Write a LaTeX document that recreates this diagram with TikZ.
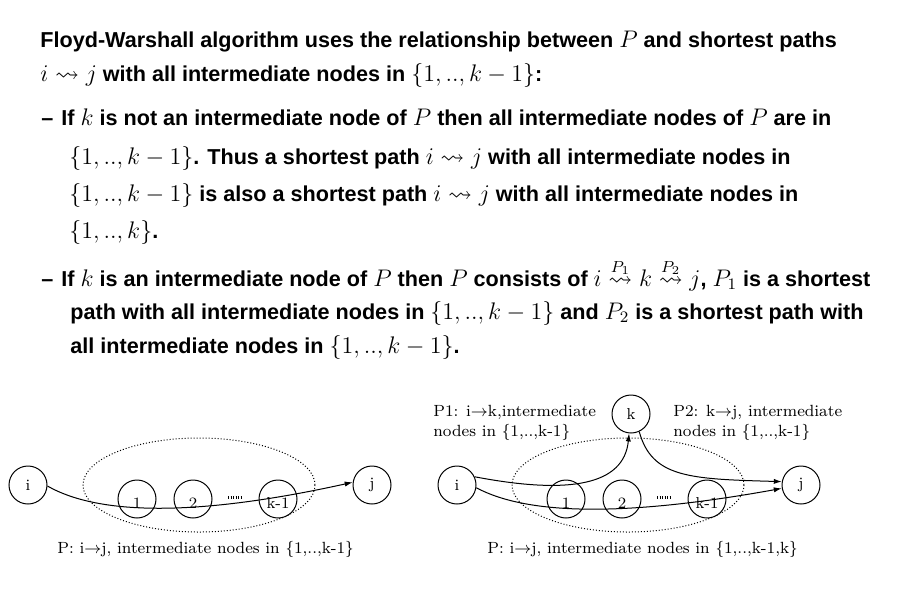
\documentclass[tikz,border=0pt]{standalone}
\usepackage{amsmath,amssymb}
\usepackage[no-math]{fontspec}
\newfontfamily\slidefont{Liberation Sans}
\DeclareMathSizes{10.8}{12}{8}{6}
\usepackage{tikz}
\usetikzlibrary{arrows.meta}
\tikzset{vertex/.style={draw, circle, line width=0.5pt, minimum size=19pt, inner sep=0pt, font=\fontsize{7.9}{9}\selectfont},
  member/.style={vertex, text height=9pt, text depth=0pt},
  txt/.style={anchor=base west, inner sep=0pt, font=\slidefont\bfseries\fontsize{10.8}{13}\selectfont},
  lbl/.style={anchor=base west, inner sep=0pt, font=\fontsize{8.1}{10}\selectfont},
  link/.style={-{Latex[length=4pt,width=2.6pt]}, line width=0.5pt},
  nodeset/.style={densely dotted, line width=0.5pt},
  ddots/.style={line width=1.5pt, dash pattern=on 0.5pt off 0.75pt}}

\begin{document}
\begin{tikzpicture}[x=0.5pt, y=-0.5pt]
\useasboundingbox (0,0) rectangle (905,606);
% text
\node[txt] (t1) at (40,47) {Floyd-Warshall algorithm uses the relationship between $P$ and shortest paths};
\node[txt] (t2) at (40,81) {$i \rightsquigarrow j$ with all intermediate nodes in $\{1,..,k-1\}$:};
\node[txt] (d1) at (41,125) {–};
\node[txt] (t3) at (61,125) {If $k$ is not an intermediate node of $P$ then all intermediate nodes of $P$ are in};
\node[txt] (t4) at (69,164) {$\{1,..,k-1\}$. Thus a shortest path $i \rightsquigarrow j$ with all intermediate nodes in};
\node[txt] (t5) at (69,201) {$\{1,..,k-1\}$ is also a shortest path $i \rightsquigarrow j$ with all intermediate nodes in};
\node[txt] (t6) at (69,238) {$\{1,..,k\}$.};
\node[txt] (d2) at (41,286) {–};
\node[txt] (t7) at (61,286) {If $k$ is an intermediate node of $P$ then $P$ consists of $i \stackrel{P_1}{\rightsquigarrow} k \stackrel{P_2}{\rightsquigarrow} j$, $P_1$ is a shortest};
\node[txt] (t8) at (70,319) {path with all intermediate nodes in $\{1,..,k-1\}$ and $P_2$ is a shortest path with};
\node[txt] (t9) at (70,353) {all intermediate nodes in $\{1,..,k-1\}$.};

% left graph
\draw[nodeset] (199,485) ellipse [x radius=116, y radius=47];
\node[vertex] (iL) at (28,485) {i};
\node[member] (n1L) at (137,499) {1};
\node[member] (n2L) at (193,499) {2};
\node[member] (nkL) at (278,499) {k-1};
\node[vertex] (jL) at (372,485) {j};
\draw[ddots] (228,497) -- (243,497);
\draw[link] (iL.-3) .. controls (100,516) and (200,516) .. (jL.172);
\node[lbl] (cL) at (57,553) {P: i$\to$j, intermediate nodes in \{1,..,k-1\}};

% right graph
\draw[nodeset] (628,485) ellipse [x radius=116, y radius=47];
\node[vertex] (iR) at (457,485) {i};
\node[member] (n1R) at (566,499) {1};
\node[member] (n2R) at (622,499) {2};
\node[member] (nkR) at (707,499) {k-1};
\node[vertex] (jR) at (801,485) {j};
\node[vertex] (kR) at (631,414) {k};
\draw[ddots] (657,497) -- (672,497);
\draw[link] (iR.25) .. controls (570,495) and (624,485) .. (kR);
\draw[link] (kR.-65) .. controls (652,478) and (690,479) .. (jR.170);
\draw[link] (iR.-8) .. controls (529,516) and (629,516) .. (jR.-170);
\node[lbl] (p1) at (433,416) {P1: i$\to$k,intermediate};
\node[lbl] (p1b) at (433,436) {nodes in \{1,..,k-1\}};
\node[lbl] (p2) at (673,416) {P2: k$\to$j, intermediate};
\node[lbl] (p2b) at (673,436) {nodes in \{1,..,k-1\}};
\node[lbl] (cR) at (487,553) {P: i$\to$j, intermediate nodes in \{1,..,k-1,k\}};
\end{tikzpicture}
\end{document}
